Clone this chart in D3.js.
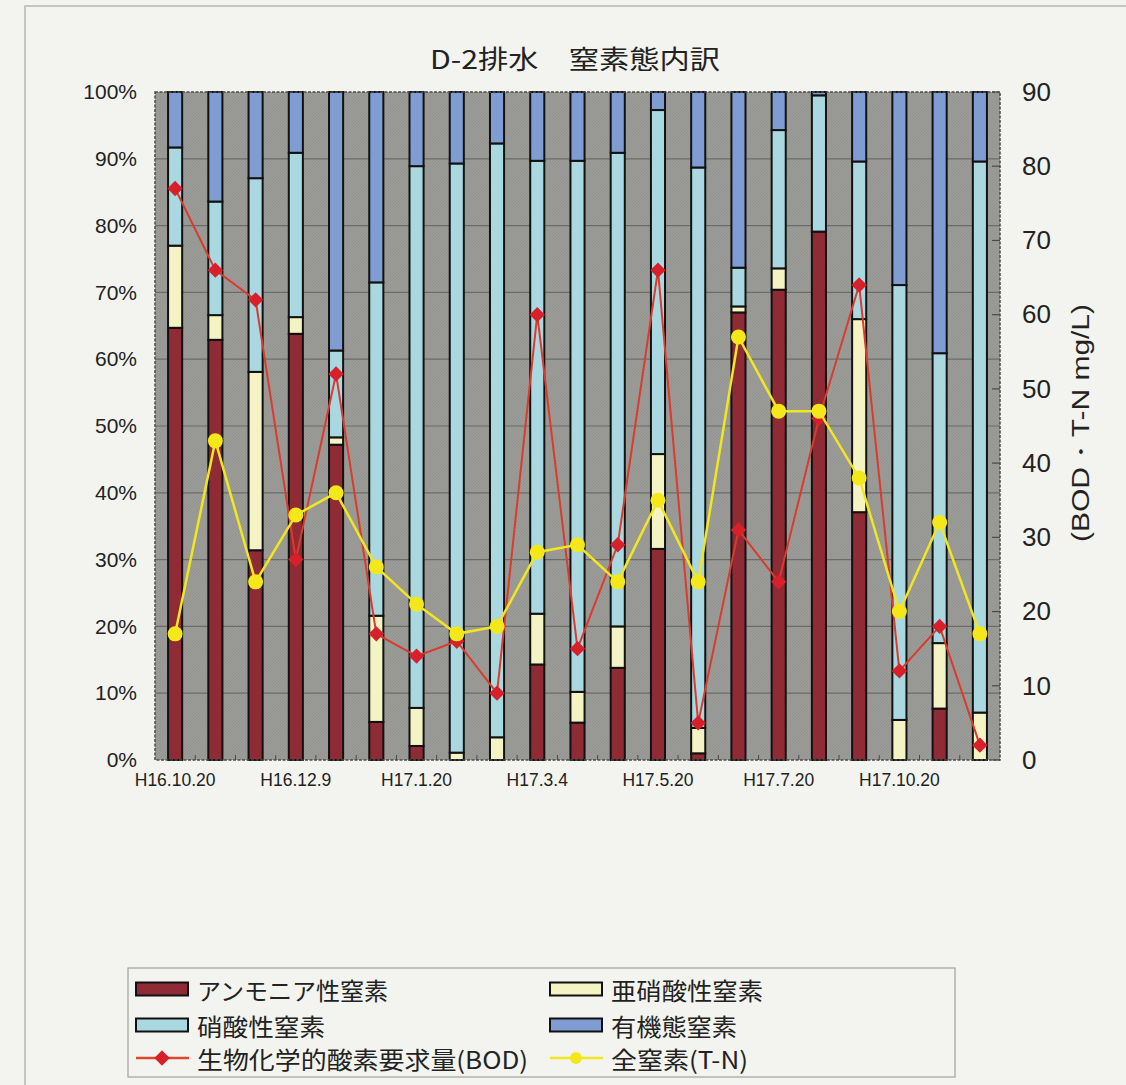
<!DOCTYPE html>
<html><head><meta charset="utf-8">
<script src="https://cdn.jsdelivr.net/npm/d3@7"></script>
<style>
html,body{margin:0;padding:0;background:#f3f4ef;}
svg{display:block;}
</style></head>
<body>
<svg id="c" width="1126" height="1085"></svg>
<script>
// ---- data ----
const dateLabels = ["H16.10.20","","","H16.12.9","","","H17.1.20","","","H17.3.4","","","H17.5.20","","","H17.7.20","","","H17.10.20","",""];
const ammonia = [64.7,62.9,31.4,63.8,47.2,5.7,2.1,0,0,14.3,5.6,13.8,31.6,1.0,67.0,70.4,79.1,37.1,0,7.7,0];
const nitrite = [12.3,3.7,26.7,2.5,1.1,15.9,5.7,1.1,3.4,7.6,4.6,6.2,14.2,3.8,0.9,3.2,0,28.9,6.0,9.8,7.1];
const nitrate = [14.7,17.0,29.0,24.6,13.0,49.9,81.1,88.2,88.9,67.8,79.5,70.9,51.5,83.9,5.8,20.7,20.4,23.6,65.1,43.4,82.5];
const organic = [8.3,16.4,12.9,9.1,38.7,28.5,11.1,10.7,7.7,10.3,10.3,9.1,2.7,11.3,26.3,5.7,0.5,10.4,28.9,39.1,10.4];
const bod = [77,66,62,27,52,17,14,16,9,60,15,29,66,5,31,24,46,64,12,18,2];
const tn  = [17,43,24,33,36,26,21,17,18,28,29,24,35,24,57,47,47,38,20,32,17];
const leftTicks = [0,0.1,0.2,0.3,0.4,0.5,0.6,0.7,0.8,0.9,1.0];
const rightTicks = [0,10,20,30,40,50,60,70,80,90];
const seriesNames = ["アンモニア性窒素","亜硝酸性窒素","硝酸性窒素","有機態窒素"];
const seriesColors = ["#8f2b35","#f3f3c4","#a9d8e0","#7f9dd2"];
const title = "D-2排水　窒素態内訳";
const rightTitle = "(BOD・T-N mg/L)";
const bodName = "生物化学的酸素要求量(BOD)";
const tnName = "全窒素(T-N)";

// ---- layout ----
const svg = d3.select("#c");
const X0=155, X1=1000, Y0=92, Y1=760;
const jp = "'Noto Sans CJK JP','Noto Sans',sans-serif";
const num = "'Liberation Sans',Arial,sans-serif";

// outer frame
svg.append("path").attr("d","M25,1090 V6 H1130").attr("fill","none").attr("stroke","#b4b6b2").attr("stroke-width",1.5);

const idx = d3.range(dateLabels.length);
const x = d3.scaleBand().domain(idx).range([X0,X1]).paddingInner(0.6).paddingOuter(0.3);
const y = d3.scaleLinear().domain([0,1]).range([Y1,Y0]);
const y2 = d3.scaleLinear().domain([0,90]).range([Y1,Y0]);

// plot background with faint texture
const defs = svg.append("defs");
const pat = defs.append("pattern").attr("id","hatch").attr("patternUnits","userSpaceOnUse").attr("width",3).attr("height",3);
pat.append("rect").attr("width",3).attr("height",3).attr("fill","#9b9c98");
pat.append("path").attr("d","M0,3 L3,0").attr("stroke","#8f908c").attr("stroke-width",0.7);
svg.append("rect").attr("x",X0).attr("y",Y0).attr("width",X1-X0).attr("height",Y1-Y0).attr("fill","url(#hatch)");

// gridlines
svg.append("g").selectAll("line").data(leftTicks.slice(1,-1)).join("line")
  .attr("x1",X0).attr("x2",X1).attr("y1",d=>y(d)).attr("y2",d=>y(d))
  .attr("stroke","#6b6c69").attr("stroke-width",1.2);

// stacked bars
const rows = idx.map(i=>({i, a:ammonia[i], n:nitrite[i], t:nitrate[i], o:organic[i]}));
const stack = d3.stack().keys(["a","n","t","o"]).offset(d3.stackOffsetExpand);
const layers = stack(rows);
const gBars = svg.append("g");
layers.forEach((layer,k)=>{
  gBars.append("g").selectAll("rect").data(layer.filter(d=>d[1]-d[0]>0.0005)).join("rect")
    .attr("x",d=>x(d.data.i)+1)
    .attr("width",x.bandwidth()-2)
    .attr("y",d=>y(d[1]))
    .attr("height",d=>y(d[0])-y(d[1]))
    .attr("fill",seriesColors[k])
    .attr("stroke","#111").attr("stroke-width",2);
});

// plot border (dashed)
svg.append("rect").attr("x",X0).attr("y",Y0).attr("width",X1-X0).attr("height",Y1-Y0)
  .attr("fill","none").attr("stroke","#4a4b48").attr("stroke-width",1.5).attr("stroke-dasharray","3,1.5");

// bottom minor ticks at band boundaries
const step = x.step();
svg.append("g").selectAll("line").data(d3.range(1,dateLabels.length)).join("line")
  .attr("x1",d=>X0+d*step).attr("x2",d=>X0+d*step).attr("y1",Y1).attr("y2",Y1-5)
  .attr("stroke","#4a4b48").attr("stroke-width",1);

// left axis
const la = svg.append("g").attr("transform",`translate(${X0},0)`)
  .call(d3.axisLeft(y).tickValues(leftTicks).tickFormat(d3.format(".0%")).tickSize(0).tickPadding(18));
la.select(".domain").remove();
la.selectAll("text").attr("font-family",num).attr("font-size",21).attr("fill","#222");

// right axis
const ra = svg.append("g").attr("transform",`translate(${X1},0)`)
  .call(d3.axisRight(y2).tickValues(rightTicks).tickSize(0).tickPadding(22));
ra.select(".domain").remove();
ra.selectAll("text").attr("font-family",num).attr("font-size",26).attr("fill","#222");
svg.append("g").selectAll("line").data(rightTicks).join("line")
  .attr("x1",X1-8).attr("x2",X1).attr("y1",d=>y2(d)).attr("y2",d=>y2(d))
  .attr("stroke","#4a4b48").attr("stroke-width",1.2);

// bottom axis labels
const ba = svg.append("g").attr("transform",`translate(0,${Y1})`)
  .call(d3.axisBottom(x).tickFormat(i=>dateLabels[i]).tickSize(0).tickPadding(14));
ba.select(".domain").remove();
ba.selectAll("text").attr("font-family",num).attr("font-size",17.5).attr("fill","#222");

// right title
svg.append("text").attr("transform","translate(1081,423) rotate(-90)")
  .attr("text-anchor","middle").attr("dominant-baseline","central")
  .attr("font-family",num).attr("font-size",23).attr("fill","#222")
  .attr("textLength",238).attr("lengthAdjust","spacingAndGlyphs").text(rightTitle);

// title
svg.append("text").attr("x",575).attr("y",69).attr("text-anchor","middle")
  .attr("font-family",jp).attr("font-size",26).attr("fill","#222")
  .attr("textLength",290).attr("lengthAdjust","spacingAndGlyphs").text(title);

// lines
const cx = i=>x(i)+x.bandwidth()/2;
const lineGen = d3.line().x((d,i)=>cx(i)).y(d=>y2(d));
svg.append("path").datum(bod).attr("d",lineGen).attr("fill","none").attr("stroke","#dc3a2c").attr("stroke-width",2);
const diamond = d3.symbol().type(d3.symbolDiamond2).size(150);
svg.append("g").selectAll("path").data(bod).join("path")
  .attr("transform",(d,i)=>`translate(${cx(i)},${y2(d)})`).attr("d",diamond).attr("fill","#d8202a");

svg.append("path").datum(tn).attr("d",lineGen).attr("fill","none").attr("stroke","#f2e620").attr("stroke-width",2.5);
svg.append("g").selectAll("circle").data(tn).join("circle")
  .attr("cx",(d,i)=>cx(i)).attr("cy",d=>y2(d)).attr("r",7.5).attr("fill","#f4e81a");

// legend
const lg = svg.append("g");
lg.append("rect").attr("x",128).attr("y",968).attr("width",827).attr("height",109)
  .attr("fill","none").attr("stroke","#9fa19d").attr("stroke-width",1.2);
const legRows = [[0,136,989,191],[1,550,989,152],[2,136,1025,128],[3,550,1025,126]];
legRows.forEach(([k,lx,ly,tl])=>{
  lg.append("rect").attr("x",lx).attr("y",ly-6.5).attr("width",52).attr("height",13)
    .attr("fill",seriesColors[k]).attr("stroke","#111").attr("stroke-width",2);
  lg.append("text").attr("x",lx+61).attr("y",ly).attr("dominant-baseline","central")
    .attr("font-family",jp).attr("font-size",24).attr("fill","#222")
    .attr("textLength",tl).attr("lengthAdjust","spacingAndGlyphs").text(seriesNames[k]);
});
// BOD legend
lg.append("line").attr("x1",136).attr("x2",189).attr("y1",1058).attr("y2",1058).attr("stroke","#e0452a").attr("stroke-width",2.5);
lg.append("path").attr("transform","translate(162,1058)").attr("d",diamond).attr("fill","#d8202a");
lg.append("text").attr("x",197).attr("y",1058).attr("dominant-baseline","central")
  .attr("font-family",jp).attr("font-size",24).attr("fill","#222")
  .attr("textLength",331).attr("lengthAdjust","spacingAndGlyphs").text(bodName);
lg.append("line").attr("x1",550).attr("x2",603).attr("y1",1058).attr("y2",1058).attr("stroke","#f2e620").attr("stroke-width",2.5);
lg.append("circle").attr("cx",576).attr("cy",1058).attr("r",6).attr("fill","#f4e81a");
lg.append("text").attr("x",611).attr("y",1058).attr("dominant-baseline","central")
  .attr("font-family",jp).attr("font-size",24).attr("fill","#222")
  .attr("textLength",137).attr("lengthAdjust","spacingAndGlyphs").text(tnName);
</script>
</body></html>
